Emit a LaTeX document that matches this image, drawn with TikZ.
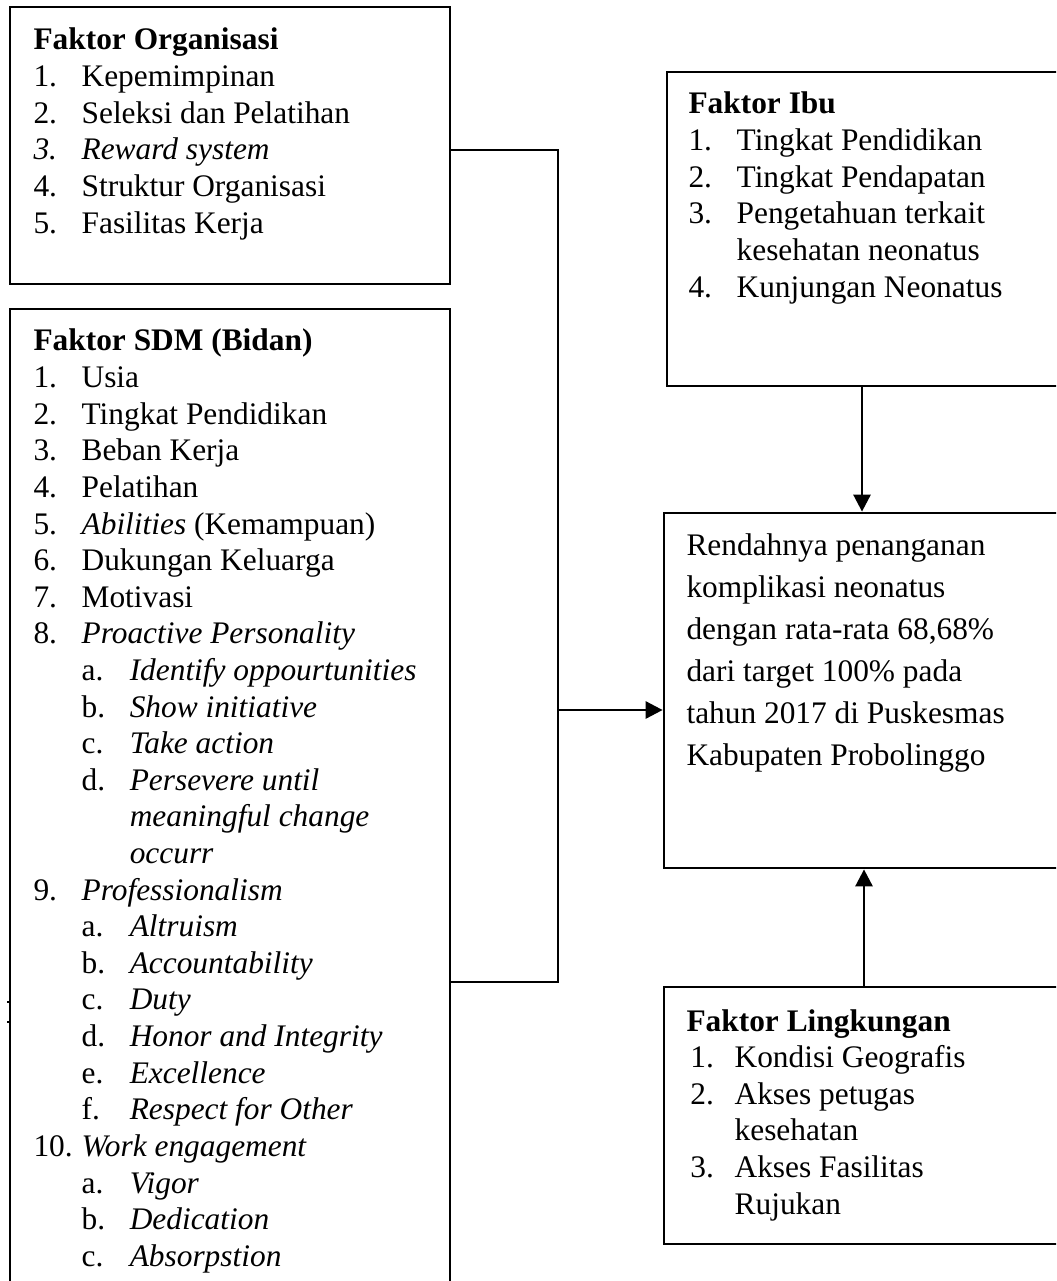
\documentclass[tikz,border=0pt]{standalone}
\usepackage{fontspec}
\setmainfont{Liberation Serif}
\usetikzlibrary{arrows.meta,fit}
\newlength\hang \setlength\hang{18.4pt}
\newcommand\itm[2]{\makebox[\hang][l]{#1}#2\par}
\newcommand\subitm[2]{\hspace*{\hang}\makebox[\hang][l]{#1}#2\par}
\newcommand\contl[1]{\hspace*{2\hang}#1\par}
\newcommand\contm[1]{\hspace*{\hang}#1\par}
\newcommand\hd[1]{\textbf{#1}\par}
\begin{document}
\begin{tikzpicture}[x=0.3824pt,y=-0.3824pt,
  box/.style={draw, line width=1.05pt, inner sep=0pt, rectangle},
  txt/.style={inner sep=0pt, anchor=base west},
  conn/.style={line width=1.05pt},
  arr/.style={line width=1.05pt, -{Triangle[length=6.5pt,width=6.5pt]}}]
\clip (0,0) rectangle (1056,1281);
\fill[white] (0,0) rectangle (1056,1281);
% boxes
\node[box, fit={(10,7) (450,284)}] (org) {};
\node[box, fit={(10,309) (450,1300)}] (sdm) {};
\node[box, fit={(667,72) (1075,386)}] (ibu) {};
\node[box, fit={(664,513) (1075,868)}] (rend) {};
\node[box, fit={(664,987) (1075,1244)}] (ling) {};
% texts
\node[txt] (orgt) at (33,50) {\parbox[t]{380pt}{\fontsize{12pt}{14pt}\selectfont
\hd{Faktor Organisasi}
\itm{1.}{Kepemimpinan}
\itm{2.}{Seleksi dan Pelatihan}
\itm{\textit{3.}}{\textit{Reward system}}
\itm{4.}{Struktur Organisasi}
\itm{5.}{Fasilitas Kerja}}};
\node[txt] (sdmt) at (33,351) {\parbox[t]{380pt}{\fontsize{12pt}{14pt}\selectfont
\hd{Faktor SDM (Bidan)}
\itm{1.}{Usia}
\itm{2.}{Tingkat Pendidikan}
\itm{3.}{Beban Kerja}
\itm{4.}{Pelatihan}
\itm{5.}{\textit{Abilities} (Kemampuan)}
\itm{6.}{Dukungan Keluarga}
\itm{7.}{Motivasi}
\itm{8.}{\textit{Proactive Personality}}
\subitm{a.}{\textit{Identify oppourtunities}}
\subitm{b.}{\textit{Show initiative}}
\subitm{c.}{\textit{Take action}}
\subitm{d.}{\textit{Persevere until}}
\contl{\textit{meaningful change}}
\contl{\textit{occurr}}
\itm{9.}{\textit{Professionalism}}
\subitm{a.}{\textit{Altruism}}
\subitm{b.}{\textit{Accountability}}
\subitm{c.}{\textit{Duty}}
\subitm{d.}{\textit{Honor and Integrity}}
\subitm{e.}{\textit{Excellence}}
\subitm{f.}{\textit{Respect for Other}}
\itm{10.}{\textit{Work engagement}}
\subitm{a.}{\textit{Vigor}}
\subitm{b.}{\textit{Dedication}}
\subitm{c.}{\textit{Absorpstion}}}};
\node[txt] (ibut) at (688,114) {\parbox[t]{380pt}{\fontsize{12pt}{14pt}\selectfont
\hd{Faktor Ibu}
\itm{1.}{Tingkat Pendidikan}
\itm{2.}{Tingkat Pendapatan}
\itm{3.}{Pengetahuan terkait}
\contm{kesehatan neonatus}
\itm{4.}{Kunjungan Neonatus}}};
\node[txt] (rendt) at (686,556) {\parbox[t]{380pt}{\fontsize{12pt}{16pt}\selectfont
Rendahnya penanganan\par
komplikasi neonatus\par
dengan rata-rata 68,68\%\par
dari target 100\% pada\par
tahun 2017 di Puskesmas\par
Kabupaten Probolinggo}};
\node[txt] (lingt) at (686,1031) {\parbox[t]{380pt}{\fontsize{12pt}{14pt}\selectfont
\hd{Faktor Lingkungan}
\itm{\hspace*{1.5pt}1.}{Kondisi Geografis}
\itm{\hspace*{1.5pt}2.}{Akses petugas}
\contm{kesehatan}
\itm{\hspace*{1.5pt}3.}{Akses Fasilitas}
\contm{Rujukan}}};
% connectors
\coordinate (jt) at (558,150);
\coordinate (jm) at (558,710);
\coordinate (jb) at (558,982);
\draw[conn] (org.east |- jt) -- (jt) -- (jb) -- (sdm.east |- jb);
\draw[arr] (jm) -- (rend.west |- jm);
\coordinate (ja) at (862,400);
\draw[arr] (ibu.south -| ja) -- (rend.north -| ja);
\coordinate (jc) at (864,900);
\draw[arr] (ling.north -| jc) -- (rend.south -| jc);
% stray marks at left edge
\draw[line width=0.5pt] (7,1002) -- (11,1002) (7,1022) -- (11,1022);
\end{tikzpicture}
\end{document}
